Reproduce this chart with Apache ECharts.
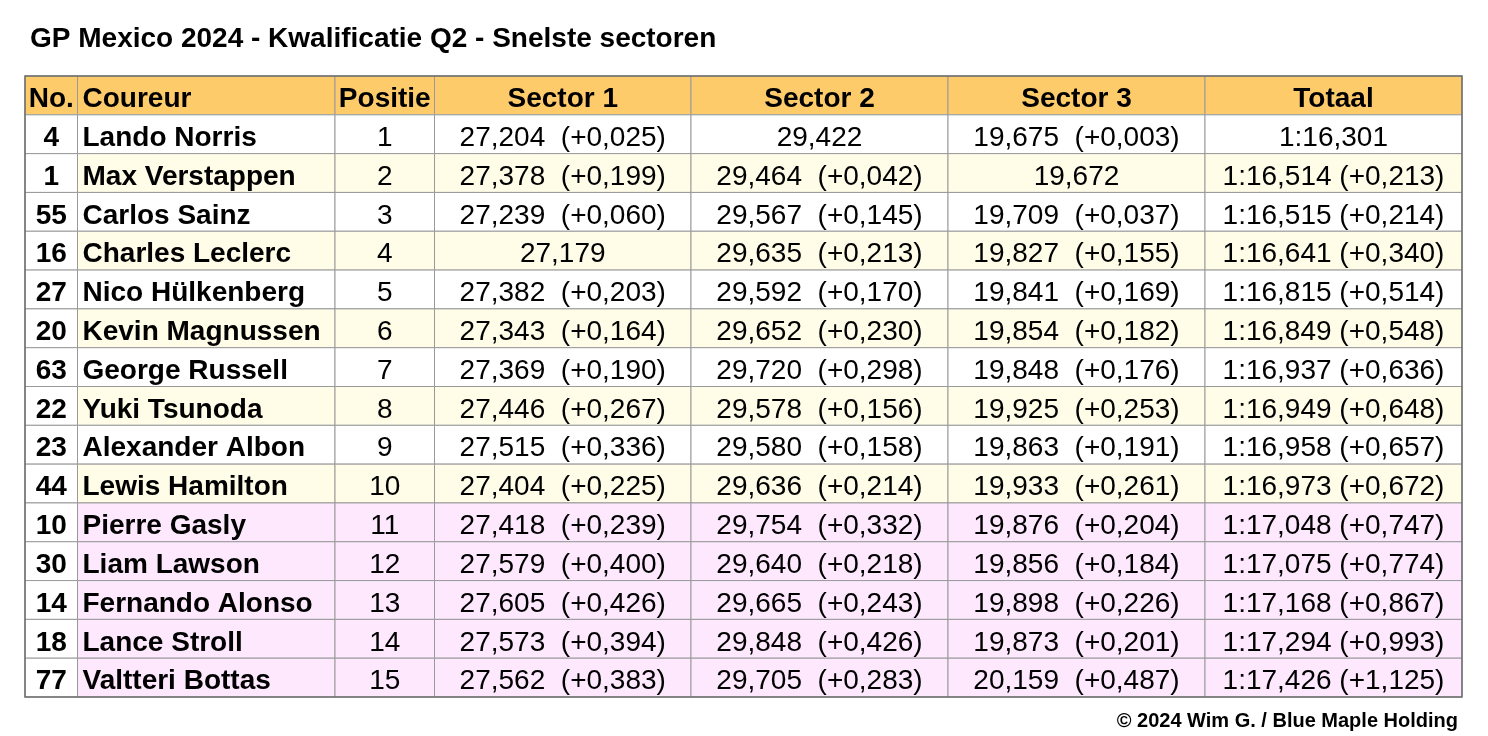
<!DOCTYPE html>
<html>
<head>
<meta charset="utf-8">
<style>html,body{margin:0;padding:0;background:#fff;}#c{width:1488px;height:736px;}</style>
<script src="https://cdn.jsdelivr.net/npm/echarts@6/dist/echarts.min.js"></script>
</head>
<body>
<div id="c"></div>
<script>
const titleText = 'GP Mexico 2024 - Kwalificatie Q2 - Snelste sectoren';
const footerText = '© 2024 Wim G. / Blue Maple Holding';
const headers = ['No.', 'Coureur', 'Positie', 'Sector 1', 'Sector 2', 'Sector 3', 'Totaal'];
const nums = ['4','1','55','16','27','20','63','22','23','44','10','30','14','18','77'];
const drivers = ['Lando Norris','Max Verstappen','Carlos Sainz','Charles Leclerc','Nico Hülkenberg','Kevin Magnussen','George Russell','Yuki Tsunoda','Alexander Albon','Lewis Hamilton','Pierre Gasly','Liam Lawson','Fernando Alonso','Lance Stroll','Valtteri Bottas'];
const positions = ['1','2','3','4','5','6','7','8','9','10','11','12','13','14','15'];
const s1 = ['27,204','27,378','27,239','27,179','27,382','27,343','27,369','27,446','27,515','27,404','27,418','27,579','27,605','27,573','27,562'];
const s1Gap = ['+0,025','+0,199','+0,060',null,'+0,203','+0,164','+0,190','+0,267','+0,336','+0,225','+0,239','+0,400','+0,426','+0,394','+0,383'];
const s2 = ['29,422','29,464','29,567','29,635','29,592','29,652','29,720','29,578','29,580','29,636','29,754','29,640','29,665','29,848','29,705'];
const s2Gap = [null,'+0,042','+0,145','+0,213','+0,170','+0,230','+0,298','+0,156','+0,158','+0,214','+0,332','+0,218','+0,243','+0,426','+0,283'];
const s3 = ['19,675','19,672','19,709','19,827','19,841','19,854','19,848','19,925','19,863','19,933','19,876','19,856','19,898','19,873','20,159'];
const s3Gap = ['+0,003',null,'+0,037','+0,155','+0,169','+0,182','+0,176','+0,253','+0,191','+0,261','+0,204','+0,184','+0,226','+0,201','+0,487'];
const totals = ['1:16,301','1:16,514','1:16,515','1:16,641','1:16,815','1:16,849','1:16,937','1:16,949','1:16,958','1:16,973','1:17,048','1:17,075','1:17,168','1:17,294','1:17,426'];
const totalGap = [null,'+0,213','+0,214','+0,340','+0,514','+0,548','+0,636','+0,648','+0,657','+0,672','+0,747','+0,774','+0,867','+0,993','+1,125'];

// layout (column edges in table units, px)
const colEdges = [0, 52.5, 310, 409.5, 666, 923, 1180, 1437];
const FONT = '"Liberation Sans", Arial, Helvetica, sans-serif';
const C_HEAD = '#fecb6b', C_WHITE = '#ffffff', C_YELLOW = '#fffde8', C_PINK = '#fde8fd';

const rowCats = ['header'].concat(nums.map((n, i) => 'r' + i));
const sec = (t, g) => g ? t + '  (' + g + ')' : t;
const tot = (t, g) => g ? t + ' (' + g + ')' : t;

const cells = [];
headers.forEach((h, c) => cells.push({ value: [c, 0], text: h }));
nums.forEach((n, i) => {
  const r = i + 1;
  const vals = [n, drivers[i], positions[i], sec(s1[i], s1Gap[i]), sec(s2[i], s2Gap[i]), sec(s3[i], s3Gap[i]), tot(totals[i], totalGap[i])];
  vals.forEach((v, c) => cells.push({ value: [c, r], text: v }));
});

function cellFill(c, r) {
  if (r === 0) return C_HEAD;
  if (c === 0) return C_WHITE;
  const i = r - 1;
  if (i >= 10) return C_PINK;
  return i % 2 === 0 ? C_WHITE : C_YELLOW;
}

function renderCell(params, api) {
  const c = api.value(0), r = api.value(1);
  const cell = cells[params.dataIndex];
  const center = api.coord([0, r]);
  const h = api.size([0, 1])[1];
  const x0 = api.coord([colEdges[c], r])[0];
  const x1 = api.coord([colEdges[c + 1], r])[0];
  const y0 = center[1] - h / 2;
  const bold = (r === 0) || c === 0 || c === 1;
  const leftAlign = (c === 1);
  return {
    type: 'group',
    children: [
      { type: 'rect', shape: { x: x0, y: y0, width: x1 - x0, height: h },
        style: { fill: cellFill(c, r), stroke: '#9a9a9a', lineWidth: 1 } },
      { type: 'text',
        style: { text: cell.text, x: leftAlign ? x0 + 5 : (x0 + x1) / 2, y: center[1] + 4,
          align: leftAlign ? 'left' : 'center', verticalAlign: 'middle',
          font: (bold ? 'bold ' : '') + '28px ' + FONT, fill: '#000' } }
    ]
  };
}

function renderFrame(params, api) {
  const h = api.size([0, 1])[1];
  const top = api.coord([0, 0])[1] - h / 2;
  const bottom = api.coord([0, rowCats.length - 1])[1] + h / 2;
  const x0 = api.coord([colEdges[0], 0])[0];
  const x1 = api.coord([colEdges[colEdges.length - 1], 0])[0];
  return { type: 'rect', shape: { x: x0, y: top, width: x1 - x0, height: bottom - top },
    style: { fill: null, stroke: '#6e6e6e', lineWidth: 1.5 } };
}

const chart = echarts.init(document.getElementById('c'), null, { renderer: 'canvas' });
chart.setOption({
  backgroundColor: '#ffffff',
  animation: false,
  title: [
    { text: titleText, left: 30, top: 25, padding: 0, textStyle: { fontFamily: FONT, fontWeight: 'bold', fontSize: 28, color: '#000' } },
    { text: footerText, right: 30, top: 711, padding: 0, textStyle: { fontFamily: FONT, fontWeight: 'bold', fontSize: 20, color: '#000' } }
  ],
  grid: { left: 25, right: 26, top: 76, bottom: 39 },
  xAxis: { type: 'value', min: 0, max: colEdges[colEdges.length - 1], show: false },
  yAxis: { type: 'category', data: rowCats, inverse: true, show: false },
  series: [
    { type: 'custom', renderItem: renderCell, data: cells, clip: false, silent: true },
    { type: 'custom', renderItem: renderFrame, data: [[0, 0]], clip: false, silent: true, z: 3 }
  ]
});
</script>
</body>
</html>
